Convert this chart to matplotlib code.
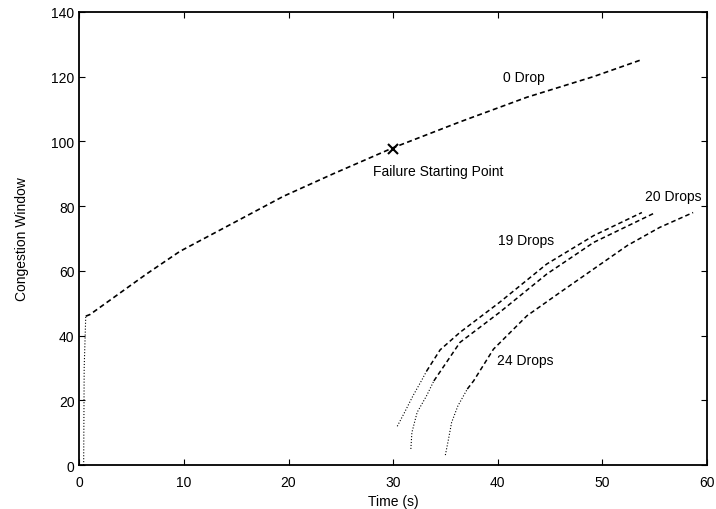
import matplotlib
matplotlib.use("Agg")
import matplotlib.pyplot as plt

plt.rcParams['font.family'] = ['Liberation Sans', 'DejaVu Sans']

# 0 Drop: slow start then congestion avoidance
zero_ss_x = [0.4, 0.45, 0.6]
zero_ss_y = [0, 30, 46]
zero_x = [0.6, 1.0, 6.4, 9.6, 13.1, 19.5, 24.3, 30.0, 36.4, 42.8, 49.2, 53.6]
zero_y = [46, 46.5, 59, 66, 72, 83, 90, 98, 106, 113.6, 120, 125]

# curves after the failure (19, 20 and 24 drops)
d19_x = [30.4, 31.1, 31.9, 32.7, 33.2, 34.5, 36.4, 40.2, 44.7, 49.2, 53.8]
d19_y = [12, 16.3, 21.4, 26, 29, 35.6, 41, 50.3, 62.1, 70.9, 78]
d20_x = [31.7, 31.8, 32.3, 33.2, 33.9, 36.4, 40.2, 44.7, 49.2, 55.1]
d20_y = [5, 10.1, 16.3, 21.4, 26, 37.9, 47.2, 59, 68.8, 78]
d24_x = [35.0, 35.3, 35.6, 36.2, 37.1, 37.7, 39.6, 42.8, 46.0, 49.2, 52.4, 55.5, 58.7]
d24_y = [3.1, 8, 13.2, 18.3, 23.5, 26, 35.8, 46.1, 53.4, 60.6, 67.8, 73.4, 78]

fail_x, fail_y = 30.0, 97.7

fig = plt.figure(figsize=(7.16, 5.10), dpi=100)
ax = fig.add_axes([0.111, 0.086, 0.876, 0.889])

dash = (0, (3, 2))
ax.plot(zero_ss_x, zero_ss_y, color='black', lw=0.8, ls=':')
ax.plot(zero_x, zero_y, color='black', lw=1.2, ls=dash)
for xs, ys in [(d19_x, d19_y), (d20_x, d20_y), (d24_x, d24_y)]:
    ax.plot(xs[:5], ys[:5], color='black', lw=0.8, ls=':')
    ax.plot(xs[4:], ys[4:], color='black', lw=1.1, ls=dash)

ax.plot([fail_x], [fail_y], marker='x', color='black', ms=7, mew=1.5)

fs = 10
ax.text(40.5, 120, '0 Drop', fontsize=fs, ha='left', va='center')
ax.text(28.1, 90.8, 'Failure Starting Point', fontsize=fs, ha='left', va='center')
ax.text(54.1, 83, '20 Drops', fontsize=fs, ha='left', va='center')
ax.text(40.0, 69.5, '19 Drops', fontsize=fs, ha='left', va='center')
ax.text(39.9, 32.6, '24 Drops', fontsize=fs, ha='left', va='center')

ax.set_xlim(0, 60)
ax.set_ylim(0, 140)
ax.set_xticks(range(0, 61, 10))
ax.set_yticks(range(0, 141, 20))
ax.tick_params(direction='in', top=True, right=True, length=4, labelsize=fs)
ax.tick_params(axis='x', pad=7)
for s in ax.spines.values():
    s.set_linewidth(1.3)
ax.set_xlabel('Time (s)', fontsize=fs, labelpad=4)
ax.set_ylabel('Congestion Window', fontsize=fs, labelpad=16)

fig.savefig('out.png', dpi=100)
